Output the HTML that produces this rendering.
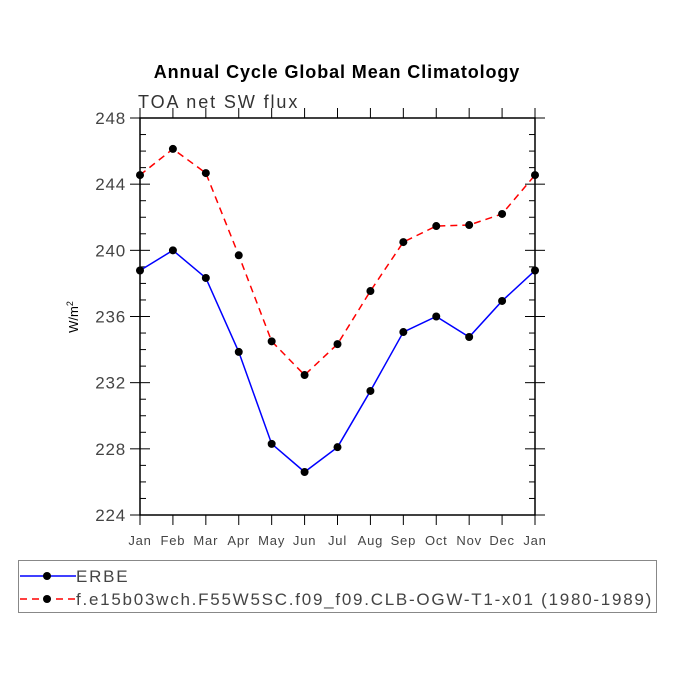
<!DOCTYPE html>
<html><head><meta charset="utf-8"><style>body{margin:0;background:#fff}svg{display:block;font-family:"Liberation Sans",sans-serif}</style></head>
<body>
<svg id="c" width="675" height="675">
<text x="337" y="78" text-anchor="middle" font-size="18" font-weight="bold" letter-spacing="0.9">Annual Cycle Global Mean Climatology</text>
<text x="138" y="108" font-size="18" fill="#333" letter-spacing="1.9">TOA net SW flux</text>
<text transform="translate(78,317) rotate(-90)" text-anchor="middle" font-size="13">W/m<tspan dy="-5" font-size="9">2</tspan></text>
<g id="axes"></g><g id="series"></g>
<rect x="18.5" y="560.5" width="638" height="52" fill="none" stroke="#888"/>
<g id="legend"></g>
</svg>
<script>
const months=["Jan","Feb","Mar","Apr","May","Jun","Jul","Aug","Sep","Oct","Nov","Dec","Jan"];
const erbe=[238.78,240.0,238.33,233.86,228.3,226.6,228.1,231.5,235.06,236.0,234.76,236.94,238.78];
const model=[244.55,246.13,244.67,239.7,234.5,232.46,234.33,237.54,240.5,241.47,241.53,242.2,244.55];
const yTicks=[224,228,232,236,240,244,248];
const seriesNames=["ERBE","f.e15b03wch.F55W5SC.f09_f09.CLB-OGW-T1-x01 (1980-1989)"];
const NS="http://www.w3.org/2000/svg";
const L=140,R=535,T=118,B=515;
const xs=i=>L+(R-L)*i/(months.length-1);
const ys=v=>B-(v-224)/(248-224)*(B-T);
function mk(t,a,p){const e=document.createElementNS(NS,t);for(const k in a)e.setAttribute(k,a[k]);p.appendChild(e);return e;}
const ax=document.getElementById('axes');
const frame=mk('rect',{x:L,y:T,width:R-L,height:B-T,fill:'none',stroke:'#000','stroke-width':1.5},ax);


for(let v=224;v<=248;v++){const y=ys(v);const maj=v%4===0;
 mk('line',{x1:maj?L-10:L,x2:L+(maj?0:6),y1:y,y2:y,stroke:'#000'},ax);
 mk('line',{x1:R-(maj?0:6),x2:maj?R+10:R,y1:y,y2:y,stroke:'#000'},ax);
 if(maj){mk('line',{x1:L,x2:L+10,y1:y,y2:y,stroke:'#000'},ax);mk('line',{x1:R-10,x2:R,y1:y,y2:y,stroke:'#000'},ax);}}
yTicks.forEach(v=>{const t=mk('text',{x:L-14,y:ys(v)+6,'text-anchor':'end','font-size':17,fill:'#444','letter-spacing':0.8},ax);t.textContent=v;
 
 });
months.forEach((m,i)=>{const x=xs(i);
 mk('line',{x1:x,x2:x,y1:B,y2:B+10,stroke:'#000'},ax);mk('line',{x1:x,x2:x,y1:T,y2:T-10,stroke:'#000'},ax);
 const t=mk('text',{x:x,y:B+30,'text-anchor':'middle','font-size':13,fill:'#444','letter-spacing':0.8},ax);t.textContent=m;
 
 });
const sg=document.getElementById('series');
function draw(vals,color,dash,name){const g=mk('g',{},sg);
 
 
 mk('polyline',{points:vals.map((v,i)=>xs(i)+','+ys(v)).join(' '),fill:'none',stroke:color,'stroke-width':1.5,'stroke-dasharray':dash},g);
 vals.forEach((v,i)=>{const c=mk('circle',{cx:xs(i),cy:ys(v),r:4,fill:'#000'},g);
  
  });}
draw(erbe,'#0000ff','none','series-erbe');
draw(model,'#ff0000','7,5','series-model');
const lg=document.getElementById('legend');
[['#0000ff','none',576],['#ff0000','7,5',599]].forEach((s,i)=>{const g=mk('g',{},lg);
 
 
 mk('line',{x1:20,x2:76,y1:s[2],y2:s[2],stroke:s[0],'stroke-width':1.5,'stroke-dasharray':s[1]},g);
 mk('circle',{cx:47,cy:s[2],r:4,fill:'#000'},g);
 const t=mk('text',{x:76,y:s[2]+6,'font-size':17,fill:'#444','letter-spacing':1.75},g);t.textContent=seriesNames[i];});
</script>
</body></html>
